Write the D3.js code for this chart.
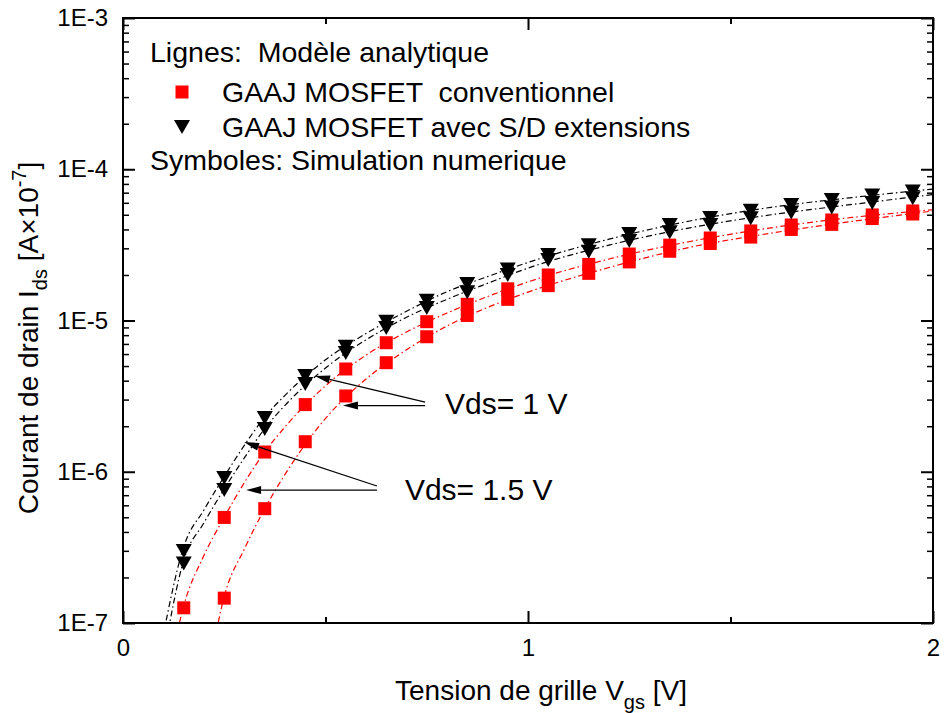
<!DOCTYPE html>
<html>
<head>
<meta charset="utf-8">
<script src="https://cdn.jsdelivr.net/npm/d3@7/dist/d3.min.js"></script>
<style>
  html, body { margin: 0; padding: 0; background: #fff; }
  svg { display: block; }
  text { font-family: "Liberation Sans", Arial, sans-serif; fill: #000; white-space: pre; }
</style>
</head>
<body>
<svg id="chart" width="944" height="713"></svg>
<script>
// ---------------- DATA ----------------
// Simulation (symbols)
const vgsSim = [0.15, 0.25, 0.35, 0.45, 0.55, 0.65, 0.75, 0.85, 0.95, 1.05, 1.15, 1.25, 1.35, 1.45, 1.55, 1.65, 1.75, 1.85, 1.95];
const simConvVds15 = [1.26e-7, 4.99e-7, 1.35e-6, 2.78e-6, 4.78e-6, 7.13e-6, 9.82e-6, 1.28e-5, 1.62e-5, 2.00e-5, 2.35e-5, 2.75e-5, 3.15e-5, 3.51e-5, 3.91e-5, 4.28e-5, 4.62e-5, 4.99e-5, 5.30e-5];
const simConvVds1  = [null, 1.46e-7, 5.70e-7, 1.58e-6, 3.17e-6, 5.26e-6, 7.81e-6, 1.08e-5, 1.38e-5, 1.70e-5, 2.05e-5, 2.44e-5, 2.87e-5, 3.23e-5, 3.56e-5, 4.00e-5, 4.32e-5, 4.72e-5, 5.06e-5];
const simExtVds15  = [2.99e-7, 9.10e-7, 2.27e-6, 4.30e-6, 6.71e-6, 9.82e-6, 1.35e-5, 1.74e-5, 2.17e-5, 2.71e-5, 3.15e-5, 3.73e-5, 4.28e-5, 4.76e-5, 5.31e-5, 5.80e-5, 6.26e-5, 6.70e-5, 7.13e-5];
const simExtVds1   = [2.47e-7, 7.57e-7, 1.92e-6, 3.80e-6, 6.10e-6, 8.91e-6, 1.21e-5, 1.54e-5, 2.00e-5, 2.51e-5, 2.85e-5, 3.36e-5, 3.83e-5, 4.28e-5, 4.74e-5, 5.18e-5, 5.58e-5, 5.98e-5, 6.43e-5];

// Analytical model (dash-dot lines)
const modelVgs = [0.10, 0.15, 0.20, 0.25, 0.30, 0.35, 0.40, 0.50, 0.60, 0.70, 0.80, 0.90, 1.00, 1.20, 1.40, 1.60, 1.80, 2.00];
const modelConvVds15 = [3e-8, 1.3e-7, 2.8e-7, 5.0e-7, 8.5e-7, 1.35e-6, 1.98e-6, 3.7e-6, 5.9e-6, 8.4e-6, 1.12e-5, 1.44e-5, 1.8e-5, 2.55e-5, 3.33e-5, 4.1e-5, 4.8e-5, 5.4e-5];
const modelConvVds1  = [null, null, 3e-8, 1.5e-7, 3.1e-7, 5.7e-7, 9.6e-7, 2.25e-6, 4.1e-6, 6.4e-6, 9.2e-6, 1.22e-5, 1.54e-5, 2.24e-5, 3.05e-5, 3.78e-5, 4.52e-5, 5.3e-5];
const modelExtVds15  = [0.85e-7, 3.2e-7, 5.6e-7, 9.3e-7, 1.5e-6, 2.3e-6, 3.2e-6, 5.5e-6, 8.2e-6, 1.15e-5, 1.55e-5, 1.95e-5, 2.42e-5, 3.45e-5, 4.55e-5, 5.6e-5, 6.5e-5, 7.4e-5];
const modelExtVds1   = [0.6e-7, 2.6e-7, 4.6e-7, 7.7e-7, 1.24e-6, 1.93e-6, 2.75e-6, 4.85e-6, 7.45e-6, 1.05e-5, 1.38e-5, 1.76e-5, 2.22e-5, 3.15e-5, 4.1e-5, 5.0e-5, 5.85e-5, 6.8e-5];

// Axis ticks
const xTickValues = [0, 1, 2];
const xTickLabels = ["0", "1", "2"];
const xMinorTicks = [0.5, 1.5];
const yTickValues = [1e-7, 1e-6, 1e-5, 1e-4, 1e-3];
const yTickLabels = ["1E-7", "1E-6", "1E-5", "1E-4", "1E-3"];

// Legend texts
const legendHeader = "Lignes:  Modèle analytique";
const legendConv = "GAAJ MOSFET  conventionnel";
const legendExt = "GAAJ MOSFET avec S/D extensions";
const legendFooter = "Symboles: Simulation numerique";

// Annotations (data coordinates)
const annotVds1 = { label: "Vds= 1 V", x: 0.795, y: 2.41e-6,
  arrows: [ { from: [0.746, 2.89e-6], to: [0.474, 4.30e-6] },
            { from: [0.746, 2.74e-6], to: [0.543, 2.74e-6] } ] };
const annotVds15 = { label: "Vds= 1.5 V", x: 0.696, y: 6.5e-7,
  arrows: [ { from: [0.627, 8.05e-7], to: [0.299, 1.57e-6] },
            { from: [0.627, 7.57e-7], to: [0.304, 7.57e-7] } ] };

// ---------------- CHART ----------------
const svg = d3.select("#chart");
const M = { left: 123, right: 933, top: 18, bottom: 623 };
const x = d3.scaleLinear().domain([0, 2]).range([M.left, M.right]);
const y = d3.scaleLog().domain([1e-7, 1e-3]).range([M.bottom, M.top]);

svg.append("defs").append("clipPath").attr("id", "clip")
  .append("rect").attr("x", M.left).attr("y", M.top)
  .attr("width", M.right - M.left).attr("height", M.bottom - M.top);

const RED = "#ff0000";

// model lines
const lineGen = d3.line()
  .defined(d => d[1] != null)
  .x(d => x(d[0])).y(d => y(d[1]))
  .curve(d3.curveMonotoneX);

const models = [
  { v: modelConvVds15, c: RED },
  { v: modelConvVds1, c: RED },
  { v: modelExtVds15, c: "#000" },
  { v: modelExtVds1, c: "#000" }
];
const gLines = svg.append("g").attr("clip-path", "url(#clip)");
models.forEach(m => {
  gLines.append("path")
    .datum(modelVgs.map((xv, i) => [xv, m.v[i]]))
    .attr("d", lineGen)
    .attr("fill", "none")
    .attr("stroke", m.c)
    .attr("stroke-width", 1.2)
    .attr("stroke-dasharray", "6,3,1.5,3");
});

// symbols
const sq = 13;
const triPath = "M-8,-7 L8,-7 L0,7 Z";
const gSym = svg.append("g").attr("clip-path", "url(#clip)");
[simConvVds15, simConvVds1].forEach(arr => {
  gSym.selectAll(null)
    .data(vgsSim.map((xv, i) => [xv, arr[i]]).filter(d => d[1] != null))
    .enter().append("rect")
    .attr("x", d => x(d[0]) - sq / 2).attr("y", d => y(d[1]) - sq / 2)
    .attr("width", sq).attr("height", sq)
    .attr("fill", RED);
});
[simExtVds15, simExtVds1].forEach(arr => {
  gSym.selectAll(null)
    .data(vgsSim.map((xv, i) => [xv, arr[i]]).filter(d => d[1] != null))
    .enter().append("path")
    .attr("d", triPath)
    .attr("transform", d => `translate(${x(d[0])},${y(d[1])})`)
    .attr("fill", "#000");
});

// axes frame
svg.append("rect")
  .attr("x", M.left).attr("y", M.top)
  .attr("width", M.right - M.left).attr("height", M.bottom - M.top)
  .attr("fill", "none").attr("stroke", "#000").attr("stroke-width", 2);

const MAJ = 12, MIN = 6;
// bottom / top x axes (ticks inward)
const xBottom = d3.axisBottom(x).tickValues(xTickValues).tickSizeInner(-MAJ).tickSizeOuter(0)
  .tickPadding(16).tickFormat((d, i) => xTickLabels[i]);
const gxb = svg.append("g").attr("transform", `translate(0,${M.bottom})`).call(xBottom);
gxb.select(".domain").remove();
gxb.selectAll("text").attr("font-size", 24).attr("font-family", "Liberation Sans, Arial, sans-serif");
gxb.selectAll("line").attr("stroke-width", 2);
const gxbm = svg.append("g").attr("transform", `translate(0,${M.bottom})`)
  .call(d3.axisBottom(x).tickValues(xMinorTicks).tickSizeInner(-MIN).tickSizeOuter(0).tickFormat(""));
gxbm.select(".domain").remove();
gxbm.selectAll("line").attr("stroke-width", 2);

const gxt = svg.append("g").attr("transform", `translate(0,${M.top})`)
  .call(d3.axisTop(x).tickValues(xTickValues).tickSizeInner(-MAJ).tickSizeOuter(0).tickFormat(""));
gxt.select(".domain").remove();
gxt.selectAll("line").attr("stroke-width", 2);
const gxtm = svg.append("g").attr("transform", `translate(0,${M.top})`)
  .call(d3.axisTop(x).tickValues(xMinorTicks).tickSizeInner(-MIN).tickSizeOuter(0).tickFormat(""));
gxtm.select(".domain").remove();
gxtm.selectAll("line").attr("stroke-width", 2);

// y minor ticks
const yMinor = [];
for (let e = -7; e < -3; e++) for (let k = 2; k <= 9; k++) yMinor.push(k * Math.pow(10, e));

const gyl = svg.append("g").attr("transform", `translate(${M.left},0)`)
  .call(d3.axisLeft(y).tickValues(yTickValues).tickSizeInner(-MAJ).tickSizeOuter(0)
    .tickPadding(15).tickFormat((d, i) => yTickLabels[i]));
gyl.select(".domain").remove();
gyl.selectAll("text").attr("font-size", 24).attr("font-family", "Liberation Sans, Arial, sans-serif");
gyl.selectAll("line").attr("stroke-width", 2);
const gylm = svg.append("g").attr("transform", `translate(${M.left},0)`)
  .call(d3.axisLeft(y).tickValues(yMinor).tickSizeInner(-MIN).tickSizeOuter(0).tickFormat(""));
gylm.select(".domain").remove();
gylm.selectAll("line").attr("stroke-width", 1.5);

const gyr = svg.append("g").attr("transform", `translate(${M.right},0)`)
  .call(d3.axisRight(y).tickValues(yTickValues).tickSizeInner(-MAJ).tickSizeOuter(0).tickFormat(""));
gyr.select(".domain").remove();
gyr.selectAll("line").attr("stroke-width", 2);
const gyrm = svg.append("g").attr("transform", `translate(${M.right},0)`)
  .call(d3.axisRight(y).tickValues(yMinor).tickSizeInner(-MIN).tickSizeOuter(0).tickFormat(""));
gyrm.select(".domain").remove();
gyrm.selectAll("line").attr("stroke-width", 1.5);

// axis titles
const xt = svg.append("text").attr("x", 541).attr("y", 700).attr("text-anchor", "middle").attr("font-size", 28);
xt.append("tspan").text("Tension de grille V");
xt.append("tspan").attr("dy", 9).attr("font-size", 20).text("gs");
xt.append("tspan").attr("dy", -9).text(" [V]");

const yt = svg.append("text").attr("transform", "translate(38,338) rotate(-90)")
  .attr("text-anchor", "middle").attr("font-size", 28);
yt.append("tspan").text("Courant de drain I");
yt.append("tspan").attr("dy", 9).attr("font-size", 20).text("ds");
yt.append("tspan").attr("dy", -9).text(" [A×10");
yt.append("tspan").attr("dy", -12).attr("font-size", 20).text("-7");
yt.append("tspan").attr("dy", 12).text("]");

// legend
const LF = 28.5;
const lg = svg.append("g");
lg.append("text").attr("x", 150).attr("y", 62).attr("font-size", LF).text(legendHeader);
lg.append("rect").attr("x", 182 - sq / 2).attr("y", 92 - sq / 2).attr("width", sq).attr("height", sq).attr("fill", RED);
lg.append("text").attr("x", 222).attr("y", 102).attr("font-size", LF).text(legendConv);
lg.append("path").attr("d", triPath).attr("transform", "translate(182,127)").attr("fill", "#000");
lg.append("text").attr("x", 222).attr("y", 137).attr("font-size", LF).text(legendExt);
lg.append("text").attr("x", 150).attr("y", 170).attr("font-size", LF).text(legendFooter);

// annotations
function drawAnnot(a) {
  svg.append("text").attr("x", x(a.x)).attr("y", y(a.y)).attr("font-size", 30).text(a.label);
  a.arrows.forEach(ar => {
    const x1 = x(ar.from[0]), y1 = y(ar.from[1]), x2 = x(ar.to[0]), y2 = y(ar.to[1]);
    const ang = Math.atan2(y2 - y1, x2 - x1);
    const L = 15, W = 4;
    const bx = x2 - L * Math.cos(ang), by = y2 - L * Math.sin(ang);
    svg.append("line").attr("x1", x1).attr("y1", y1).attr("x2", bx).attr("y2", by)
      .attr("stroke", "#000").attr("stroke-width", 1.3);
    const p = [[x2, y2],
      [bx + W * Math.sin(ang), by - W * Math.cos(ang)],
      [bx - W * Math.sin(ang), by + W * Math.cos(ang)]];
    svg.append("path").attr("d", "M" + p.map(q => q.join(",")).join("L") + "Z").attr("fill", "#000");
  });
}
drawAnnot(annotVds1);
drawAnnot(annotVds15);
</script>
</body>
</html>
